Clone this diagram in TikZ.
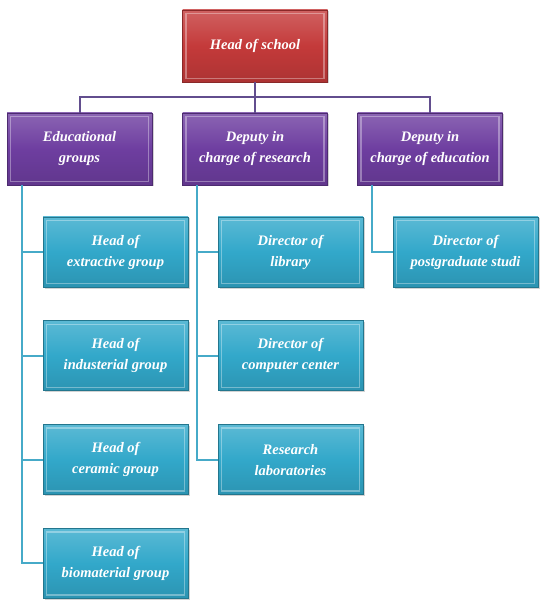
\documentclass[tikz,border=0pt]{standalone}
\usepackage{fontspec}
\setmainfont{Liberation Serif}
\usepackage{xcolor}
\usetikzlibrary{positioning,shadows}

\definecolor{headred}{RGB}{196,58,58}
\definecolor{deppurple}{RGB}{110,62,160}
\definecolor{unitteal}{RGB}{50,168,202}
\definecolor{barpurple}{RGB}{98,78,142}
\definecolor{barteal}{RGB}{70,170,200}

\begin{document}
\begin{tikzpicture}[x=1pt, y=-1pt,
    orgbox/.style={draw=#1!70!black, line width=0.8pt,
      top color=#1!80!white, bottom color=#1!88!black, middle color=#1,
      minimum width=145pt, minimum height=72pt, align=center,
      text=white, font=\bfseries\itshape\fontsize{14.5}{21}\selectfont,
      drop shadow={shadow xshift=1.5pt, shadow yshift=-1.5pt, opacity=0.35},
      path picture={\draw[white, opacity=0.35, line width=1.5pt]
        ([shift={(3.5pt,-3.5pt)}]path picture bounding box.north west) rectangle
        ([shift={(-3.5pt,3.5pt)}]path picture bounding box.south east);}},
    headbox/.style={orgbox=headred},
    depbox/.style={orgbox=deppurple},
    unitbox/.style={orgbox=unitteal, minimum height=70pt},
    bar/.style={draw=barpurple, line width=2pt},
    twig/.style={draw=barteal, line width=2pt},
    node distance=33pt]
\useasboundingbox (0,0) rectangle (550,609);
% top levels
\node[headbox] (head) at (255,46) {Head of school};
\node[depbox] (edu) at (79.5,149) {Educational\\groups};
\node[depbox] (dres) at (255,149) {Deputy in\\charge of research};
\node[depbox] (dedu) at (430,149) {Deputy in\\charge of education};
% units
\node[unitbox] (e1) at (115.5,252) {Head of\\extractive group};
\node[unitbox, below=of e1] (e2) {Head of\\industerial group};
\node[unitbox, below=of e2] (e3) {Head of\\ceramic group};
\node[unitbox, below=of e3] (e4) {Head of\\biomaterial group};
\node[unitbox] (r1) at (290.5,252) {Director of\\library};
\node[unitbox, below=of r1] (r2) {Director of\\computer center};
\node[unitbox, below=of r2] (r3) {Research\\laboratories};
\node[unitbox] (p1) at (465.5,252) {Director of\\postgraduate studi};
% links
\draw[bar] (head.south) -- ++(0,15) -| (edu.north);
\draw[bar] (head.south) -- ++(0,15) -| (dedu.north);
\draw[bar] (head.south) -- (dres.north);
\foreach \k in {1,...,4}
  \draw[twig] ([xshift=15pt]edu.south west) |- (e\k.west);
\foreach \k in {1,2,3}
  \draw[twig] ([xshift=15pt]dres.south west) |- (r\k.west);
\draw[twig] ([xshift=15pt]dedu.south west) |- (p1.west);
\end{tikzpicture}
\end{document}
